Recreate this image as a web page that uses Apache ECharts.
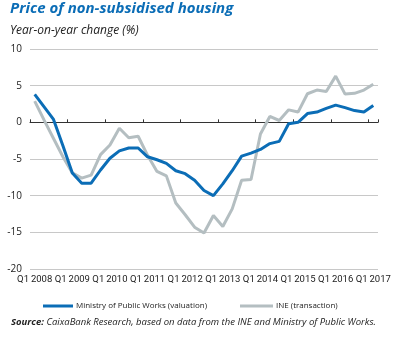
<!DOCTYPE html>
<html>
<head>
<meta charset="utf-8">
<script src="https://cdn.jsdelivr.net/npm/echarts@6/dist/echarts.min.js"></script>
<style>
  html, body { margin: 0; padding: 0; background: #fff; }
  #chart { width: 399px; height: 338px; }
</style>
</head>
<body>
<div id="chart"></div>
<script>
// Quarterly labels, Q1 2008 – Q1 2017
const years = [2008, 2009, 2010, 2011, 2012, 2013, 2014, 2015, 2016, 2017];
const quarters = [];
years.forEach(y => {
  for (let q = 1; q <= 4; q++) {
    if (y === 2017 && q > 1) break;
    quarters.push('Q' + q + ' ' + y);
  }
});

// Year-on-year change (%)
const ministryValuation = [
  3.8, 2.1, 0.4, -3.2, -6.9, -8.3, -8.3, -6.5, -4.9, -3.9,
  -3.5, -3.5, -4.7, -5.1, -5.6, -6.6, -7.0, -7.9, -9.3, -10.0,
  -8.4, -6.6, -4.6, -4.2, -3.7, -2.9, -2.6, -0.2, 0.0, 1.2,
  1.4, 1.9, 2.35, 2.0, 1.6, 1.4, 2.3
];
const ineTransaction = [
  2.9, 0.3, -2.2, -4.7, -6.9, -7.6, -7.2, -4.4, -3.1, -0.8,
  -2.1, -1.9, -4.5, -6.7, -7.3, -11.0, -12.6, -14.3, -15.1, -12.7,
  -14.2, -11.8, -7.9, -7.8, -1.6, 0.8, 0.25, 1.7, 1.4, 3.9,
  4.4, 4.2, 6.3, 3.85, 3.95, 4.4, 5.2
];
const yTicks = { min: -20, max: 10, step: 5 };

const BLUE = '#0b6db6';
const GREY = '#b4bec1';
const TEXT = '#222';
const FONT = '"Open Sans", sans-serif';
const NARROW = 'Roboto, "Open Sans", sans-serif';

const chart = echarts.init(document.getElementById('chart'), null, { renderer: 'canvas' });

chart.setOption({
  animation: false,
  backgroundColor: '#fff',
  title: {
    text: 'Price of non-subsidised housing',
    subtext: 'Year-on-year change (%)',
    left: 10,
    top: 1,
    padding: 0,
    itemGap: 9,
    textStyle: { color: BLUE, fontFamily: FONT, fontSize: 15, fontWeight: 'bold', fontStyle: 'italic' },
    subtextStyle: { color: TEXT, fontFamily: FONT, fontSize: 12, fontStyle: 'italic' }
  },
  grid: { left: 30, right: 21, top: 49, bottom: 69, containLabel: false },
  xAxis: [
    {
      // axis line drawn through zero, ticks pointing up
      type: 'category',
      data: quarters,
      boundaryGap: true,
      axisLine: { onZero: true, lineStyle: { color: '#333', width: 1 } },
      axisTick: { show: true, inside: true, length: 3, interval: 3, lineStyle: { color: '#333' } },
      axisLabel: { show: false },
      splitLine: { show: false }
    },
    {
      // category labels along the bottom edge
      type: 'category',
      data: quarters,
      boundaryGap: true,
      position: 'bottom',
      axisLine: { show: false, onZero: false },
      axisTick: { show: false },
      axisLabel: {
        interval: 3, color: TEXT, fontFamily: NARROW, fontSize: 9.5, margin: 6,
        showMinLabel: true, showMaxLabel: true, hideOverlap: false,
        formatter: v => v.replace(' ', '\u2009')
      }
    }
  ],
  yAxis: {
    type: 'value',
    min: yTicks.min,
    max: yTicks.max,
    interval: yTicks.step,
    axisLine: { show: false },
    axisTick: { show: false },
    axisLabel: { color: TEXT, fontFamily: FONT, fontSize: 10, margin: 8 },
    splitLine: { lineStyle: { color: '#c8c8c8', width: 1 } }
  },
  legend: [
    {
      data: ['Ministry of Public Works (valuation)'],
      left: 43, top: 302, padding: 0,
      icon: 'rect', itemWidth: 30, itemHeight: 3, itemGap: 6,
      textStyle: { color: TEXT, fontFamily: FONT, fontSize: 8, padding: [0, 0, 0, -2] }
    },
    {
      data: ['INE (transaction)'],
      left: 240, top: 302, padding: 0,
      icon: 'rect', itemWidth: 33, itemHeight: 3, itemGap: 6,
      textStyle: { color: TEXT, fontFamily: FONT, fontSize: 8, padding: [0, 0, 0, -2] }
    }
  ],
  graphic: [
    {
      type: 'text',
      left: 11, top: 317,
      style: {
        text: '{b|Source:} CaixaBank Research, based on data from the INE and Ministry of Public Works.',
        fontFamily: FONT, fontSize: 9.5, fontStyle: 'italic', fill: TEXT,
        rich: { b: { fontWeight: 'bold', fontStyle: 'italic', fontFamily: FONT, fontSize: 9.5, fill: TEXT } }
      }
    }
  ],
  series: [
    {
      name: 'INE (transaction)',
      type: 'line',
      data: ineTransaction,
      symbol: 'none',
      lineStyle: { color: GREY, width: 3 },
      itemStyle: { color: GREY },
      z: 2
    },
    {
      name: 'Ministry of Public Works (valuation)',
      type: 'line',
      data: ministryValuation,
      symbol: 'none',
      lineStyle: { color: BLUE, width: 3 },
      itemStyle: { color: BLUE },
      z: 3
    }
  ]
});
</script>
</body>
</html>
